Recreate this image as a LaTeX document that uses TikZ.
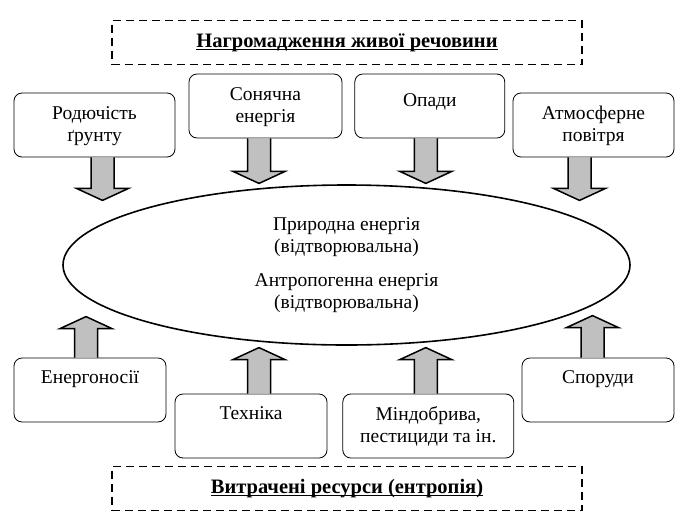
\documentclass[tikz,border=0pt]{standalone}
\usepackage{fontspec}
\setmainfont{Liberation Serif}
\usetikzlibrary{shapes.geometric, positioning}
\definecolor{arrgray}{RGB}{192,192,192}
\newcommand{\ultitle}[1]{\setbox0\hbox{\fontsize{20.5}{22}\selectfont\textbf{#1}}\rlap{\rule[-2.8pt]{\wd0}{1.3pt}}\box0}
\tikzset{
    resbox/.style={draw, rounded corners=8pt, line width=0.8pt, align=center,
        inner xsep=2pt, inner ysep=4pt, text height=21pt, text depth=35pt},
    twoline/.style={text height=44pt, text depth=12pt},
    titlebox/.style={draw, dashed, dash pattern=on 8pt off 5pt, line width=1.5pt,
        minimum width=470pt, minimum height=44pt, inner sep=0pt},
    arrowfill/.style={draw, fill=arrgray, line width=1.5pt, line join=miter},
    pics/blockarr/.style={code={
        \draw[arrowfill] (-11.5,0) -- (-11.5,#1-12) -- (-26,#1-12) -- (0,#1)
            -- (26,#1-12) -- (11.5,#1-12) -- (11.5,0);
    }}
}
\begin{document}
\begin{tikzpicture}[x=1pt, y=-1pt, every node/.style={font=\fontsize{19.5}{22}\selectfont}]
    \useasboundingbox (0,0) rectangle (699,515);

    % titles
    \node[titlebox] (accum) at (347,42.5) {\ultitle{Нагромадження живої речовини}};
    \node[titlebox] (spent) at (347,488.5) {\ultitle{Витрачені ресурси (ентропія)}};

    % centre
    \node[draw, ellipse, line width=1.6pt, minimum width=567pt, minimum height=160pt,
        inner sep=0pt, align=center] (energy) at (346.5,265)
        {Природна енергія\\(відтворювальна)\\[12pt]Антропогенна енергія\\(відтворювальна)};

    % inputs on top
    \node[resbox, twoline, minimum width=161pt] (soil) at (94.5,125) {Родючість\\ґрунту};
    \node[resbox, twoline, minimum width=153pt] (solar) at (265.5,106) {Сонячна\\енергія};
    \node[resbox, minimum width=150pt, text height=28pt, text depth=28pt,
        right=12pt of solar] (litter) {Опади};
    \node[resbox, twoline, minimum width=161pt] (air) at (593.5,125) {Атмосферне\\повітря};

    % inputs below
    \node[resbox, minimum width=152pt] (carriers) at (90,390) {Енергоносії};
    \node[resbox, minimum width=152pt] (machines) at (251,426) {Техніка};
    \node[resbox, twoline, minimum width=171pt, right=15pt of machines] (fert) {Міндобрива,\\пестициди та ін.};
    \node[resbox, minimum width=152pt] (buildings) at (598,390) {Споруди};

    \pic at ([xshift=8pt]soil.south) {blockarr=43};
    \pic at ([xshift=-6.5pt]solar.south) {blockarr=45};
    \pic at ([xshift=-4pt]litter.south) {blockarr=45};
    \pic at ([xshift=-14pt]air.south) {blockarr=43};

    \pic[rotate=180] at ([xshift=-4pt]carriers.north) {blockarr=41};
    \pic[rotate=180] at ([xshift=8pt]machines.north) {blockarr=46};
    \pic[rotate=180] at ([xshift=-2.5pt]fert.north) {blockarr=46};
    \pic[rotate=180] at ([xshift=-5.5pt]buildings.north) {blockarr=42};
\end{tikzpicture}
\end{document}
